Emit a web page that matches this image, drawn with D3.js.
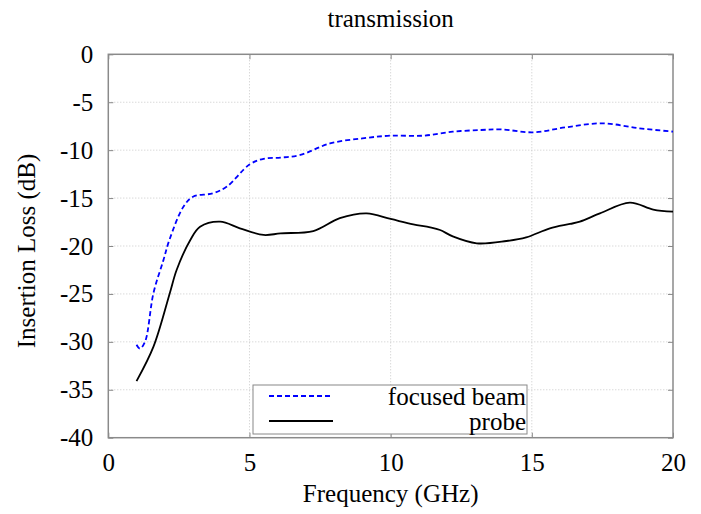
<!DOCTYPE html>
<html><head><meta charset="utf-8">
<script src="https://cdn.jsdelivr.net/npm/d3@7"></script>
<style>body{margin:0;background:#fff}svg{display:block}text{font-family:"Liberation Serif","Times New Roman",serif;fill:#000}</style>
</head><body><svg id="c" width="701" height="514"></svg>
<script>
const title = "transmission";
const xLabel = "Frequency (GHz)";
const yLabel = "Insertion Loss (dB)";
const xTicks = [0, 5, 10, 15, 20];
const yTicks = [0, -5, -10, -15, -20, -25, -30, -35, -40];
const seriesNames = ["focused beam", "probe"];
const beamFreq = [1.0, 1.12, 1.3, 1.6, 1.95, 2.16, 2.66, 3.0, 3.7, 4.2, 5.0, 5.5, 6.1, 6.8, 7.85, 9.0, 10.0, 11.15, 12.2, 13.2, 13.9, 15.05, 16.2, 17.5, 18.8, 20.0];
const beamLoss = [-30.3, -30.7, -30.0, -24.9, -21.5, -19.4, -15.9, -14.86, -14.5, -13.8, -11.5, -10.9, -10.78, -10.5, -9.3, -8.77, -8.49, -8.49, -8.07, -7.9, -7.83, -8.14, -7.62, -7.2, -7.72, -8.07];
const probeFreq = [1.0, 1.6, 2.18, 2.42, 2.9, 3.25, 3.96, 4.66, 5.5, 6.1, 7.26, 8.2, 9.15, 10.0, 10.8, 11.4, 11.75, 12.2, 13.05, 14.1, 14.8, 15.64, 16.35, 16.7, 17.41, 18.47, 19.3, 20.0];
const probeLoss = [-34.1, -30.5, -24.9, -22.5, -19.4, -18.0, -17.46, -18.15, -18.85, -18.68, -18.44, -17.1, -16.6, -17.18, -17.74, -18.05, -18.33, -19.0, -19.72, -19.48, -19.1, -18.16, -17.7, -17.46, -16.6, -15.48, -16.2, -16.42];

const svg = d3.select("#c");
const L = 108.3, R = 673, T = 54.3, B = 437.7;
const x = d3.scaleLinear().domain([0, 20]).range([L, R]);
const y = d3.scaleLinear().domain([-40, 0]).range([B, T]);
const FS = 25;
const FF = '"Liberation Serif","Times New Roman",serif';

// grid
const grid = svg.append("g").attr("stroke", "#c8c8c8").attr("stroke-width", 1).attr("stroke-dasharray", "1,2");
xTicks.filter(v => v > 0 && v < 20).forEach(v => grid.append("line").attr("x1", x(v)).attr("x2", x(v)).attr("y1", T).attr("y2", B));
yTicks.filter(v => v < 0 && v > -40).forEach(v => grid.append("line").attr("x1", L).attr("x2", R).attr("y1", y(v)).attr("y2", y(v)));

// axes
const fmt = d => String(d);
const ax = svg.append("g").attr("transform", `translate(0,${B})`).call(d3.axisBottom(x).tickValues(xTicks).tickSizeInner(-5).tickSizeOuter(0).tickPadding(16).tickFormat(fmt));
const axT = svg.append("g").attr("transform", `translate(0,${T})`).call(d3.axisTop(x).tickValues(xTicks).tickSizeInner(-5).tickSizeOuter(0).tickFormat(""));
const ay = svg.append("g").attr("transform", `translate(${L},0)`).call(d3.axisLeft(y).tickValues(yTicks).tickSizeInner(-5).tickSizeOuter(0).tickPadding(15).tickFormat(fmt));
const ayR = svg.append("g").attr("transform", `translate(${R},0)`).call(d3.axisRight(y).tickValues(yTicks).tickSizeInner(-5).tickSizeOuter(0).tickFormat(""));
[ax, axT, ay, ayR].forEach(g => {
  g.attr("font-family", FF).attr("font-size", FS);
  g.select(".domain").remove();
  g.selectAll(".tick line").attr("stroke", "#888").attr("stroke-width", 1);
  g.selectAll("text").attr("font-family", FF).style("font-family", FF).style("font-size", FS + "px").attr("fill", "#000");
});
svg.append("rect").attr("x", L).attr("y", T).attr("width", R - L).attr("height", B - T).attr("fill", "none").attr("stroke", "#8a8a8a").attr("stroke-width", 1.5);

// lines
const line = d3.line().x(d => x(d[0])).y(d => y(d[1])).curve(d3.curveCatmullRom.alpha(0.5));
const beam = beamFreq.map((f, i) => [f, beamLoss[i]]);
const probe = probeFreq.map((f, i) => [f, probeLoss[i]]);
svg.append("path").datum(probe).attr("d", line).attr("fill", "none").attr("stroke", "#000").attr("stroke-width", 1.8);
svg.append("path").datum(beam).attr("d", line).attr("fill", "none").attr("stroke", "#0000ff").attr("stroke-width", 1.8).attr("stroke-dasharray", "5,3");

// legend
const lg = svg.append("g");
lg.append("rect").attr("x", 253).attr("y", 385).attr("width", 274).attr("height", 49).attr("fill", "#fff").attr("stroke", "#888").attr("stroke-width", 1);
const lstyles = [{c: "#0000ff", d: "5,3"}, {c: "#000", d: null}];
seriesNames.forEach((n, i) => {
  const yy = 396 + i * 25;
  lg.append("line").attr("x1", 269).attr("x2", 333).attr("y1", yy).attr("y2", yy).attr("stroke", lstyles[i].c).attr("stroke-width", 1.8).attr("stroke-dasharray", lstyles[i].d);
  lg.append("text").attr("x", 526).attr("y", yy + 9).attr("text-anchor", "end").attr("font-family", FF).style("font-size", FS + "px").text(n);
});

// titles
svg.append("text").attr("x", (L + R) / 2).attr("y", 27).attr("text-anchor", "middle").attr("font-family", FF).style("font-size", FS + "px").text(title);
svg.append("text").attr("x", (L + R) / 2).attr("y", 502).attr("text-anchor", "middle").attr("font-family", FF).style("font-size", FS + "px").text(xLabel);
svg.append("text").attr("transform", `translate(35,251) rotate(-90)`).attr("text-anchor", "middle").attr("font-family", FF).style("font-size", FS + "px").text(yLabel);
</script></body></html>
